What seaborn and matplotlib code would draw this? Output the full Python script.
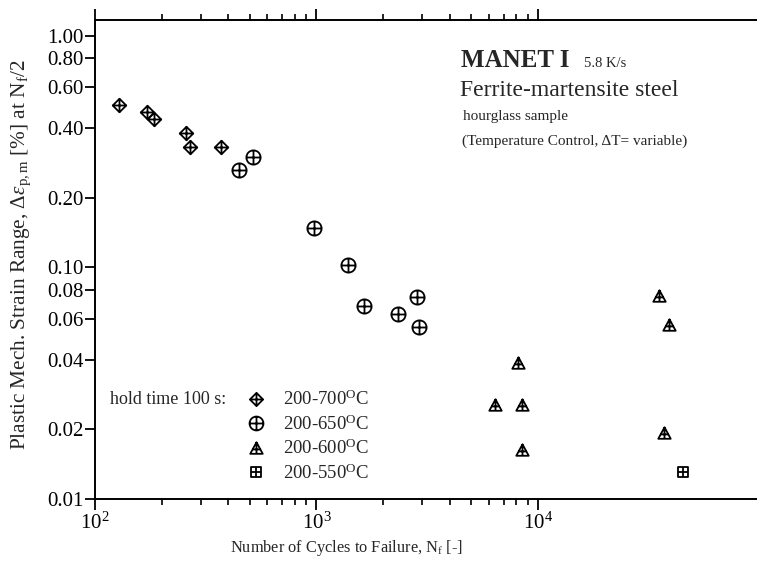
import numpy as np
import pandas as pd
import matplotlib
matplotlib.use("Agg")
import matplotlib.pyplot as plt
from matplotlib.path import Path
from matplotlib.lines import Line2D
from matplotlib.ticker import FixedLocator, FixedFormatter, NullFormatter
import seaborn as sns

# ---------------- data ----------------
series_names = ["200-700°C", "200-650°C", "200-600°C", "200-550°C"]
legend_labels = [r"200-700$^\mathrm{O}$C", r"200-650$^\mathrm{O}$C",
                 r"200-600$^\mathrm{O}$C", r"200-550$^\mathrm{O}$C"]

n_700 = [128, 172, 185, 258, 268, 371]
e_700 = [0.503, 0.470, 0.438, 0.381, 0.331, 0.331]

n_650 = [447, 517, 975, 1383, 1633, 2326, 2844, 2893]
e_650 = [0.264, 0.300, 0.148, 0.1025, 0.0684, 0.0628, 0.0743, 0.0555]

n_600 = [8128, 6397, 8472, 8472, 35200, 39000, 37100]
e_600 = [0.0386, 0.0255, 0.0255, 0.0163, 0.0753, 0.0565, 0.0193]

n_550 = [45200]
e_550 = [0.0131]

y_ticks = [0.01, 0.02, 0.04, 0.06, 0.08, 0.10, 0.20, 0.40, 0.60, 0.80, 1.00]
y_ticklabels = ["0.01", "0.02", "0.04", "0.06", "0.08", "0.10",
                "0.20", "0.40", "0.60", "0.80", "1.00"]
x_major = [1e2, 1e3, 1e4]
x_ticklabels = [r"$10^{2}$", r"$10^{3}$", r"$10^{4}$"]

df = pd.concat([
    pd.DataFrame({"N": n_700, "eps": e_700, "series": series_names[0]}),
    pd.DataFrame({"N": n_650, "eps": e_650, "series": series_names[1]}),
    pd.DataFrame({"N": n_600, "eps": e_600, "series": series_names[2]}),
    pd.DataFrame({"N": n_550, "eps": e_550, "series": series_names[3]}),
], ignore_index=True)

# ---------------- custom crossed markers ----------------
M, L, C = Path.MOVETO, Path.LINETO, Path.CLOSEPOLY

def shape_with_cross(outline, cross):
    verts, codes = [], []
    verts += list(outline) + [outline[0]]
    codes += [M] + [L] * (len(outline) - 1) + [C]
    for (a, b) in cross:
        verts += [a, b]
        codes += [M, L]
    return Path(verts, codes)

diamond = shape_with_cross([(0, 1), (1, 0), (0, -1), (-1, 0)],
                           [((0, 1), (0, -1)), ((-1, 0), (1, 0))])
circ = Path.unit_circle()
circle = Path(np.concatenate([circ.vertices, [[-1, 0], [1, 0], [0, -1], [0, 1]]]),
              np.concatenate([circ.codes, [M, L, M, L]]))
triangle = shape_with_cross([(-1, -0.85), (1, -0.85), (0, 1.0)],
                            [((0, 1.0), (0, -0.85)), ((-0.62, -0.15), (0.62, -0.15))])
square = shape_with_cross([(-1, -1), (1, -1), (1, 1), (-1, 1)],
                          [((0, 1), (0, -1)), ((-1, 0), (1, 0))])
marker_map = dict(zip(series_names, [diamond, circle, triangle, square]))
size_map = dict(zip(series_names, [95, 105, 80, 60]))

# ---------------- figure ----------------
sns.set_theme(style="ticks")
plt.rcParams["font.family"] = ["Liberation Serif", "DejaVu Serif"]
plt.rcParams["mathtext.fontset"] = "custom"
plt.rcParams["mathtext.rm"] = "Liberation Serif"
plt.rcParams["mathtext.it"] = "Liberation Serif:italic"
plt.rcParams["mathtext.bf"] = "Liberation Serif:bold"

fig = plt.figure(figsize=(7.57, 5.65), dpi=100)
ax = fig.add_axes([95 / 757, 1 - 499 / 565, (757 - 95) / 757, (499 - 20) / 565])

for name in series_names:
    sub = df[df["series"] == name]
    sns.scatterplot(data=sub, x="N", y="eps", marker=marker_map[name],
                    s=size_map[name], color="white", edgecolor="black",
                    linewidth=1.3, ax=ax, legend=False, zorder=3)

ax.set_xscale("log")
ax.set_yscale("log")
ax.set_xlim(100, 10 ** 4.989)
ax.set_ylim(0.01, 10 ** 0.0691)

ax.yaxis.set_major_locator(FixedLocator(y_ticks))
ax.yaxis.set_major_formatter(FixedFormatter(y_ticklabels))
ax.yaxis.set_minor_locator(FixedLocator([]))
ax.xaxis.set_major_locator(FixedLocator(x_major))
ax.xaxis.set_major_formatter(FixedFormatter(x_ticklabels))
minors = [m * d for d in (1e2, 1e3) for m in range(2, 10)]
ax.xaxis.set_minor_locator(FixedLocator(minors))
ax.xaxis.set_minor_formatter(NullFormatter())

for s in ["left", "bottom", "top"]:
    ax.spines[s].set_linewidth(1.4)
    ax.spines[s].set_color("black")
ax.spines["right"].set_visible(False)

ax.tick_params(axis="x", which="major", direction="out", length=8, width=1.3,
               top=True, labeltop=False, labelsize=15, pad=2, colors="black")
ax.tick_params(axis="x", which="minor", direction="out", length=4.5, width=1.2,
               top=True, colors="black")
ax.tick_params(axis="y", which="major", direction="out", length=7, width=1.3,
               labelsize=15, pad=1, colors="black")
ax.tick_params(axis="y", which="minor", length=0)
ax.grid(False)

ax.set_xlabel(r"Number of Cycles to Failure, N$_\mathrm{f}$ [-]", fontsize=11.8)
ax.xaxis.set_label_coords((346 - 95) / 662, -0.082)
ax.set_ylabel(r"Plastic Mech. Strain Range, $\Delta\varepsilon_\mathrm{p,m}$ [%] at N$_\mathrm{f}$/2",
              fontsize=15.3)
ax.yaxis.set_label_coords((33 - 95) / 662, 0.51)

# annotation texts
fig.text(461 / 757, 1 - 67 / 565, "MANET I", fontsize=18, fontweight="bold")
fig.text(584 / 757, 1 - 67 / 565, "5.8 K/s", fontsize=10.5)
fig.text(460 / 757, 1 - 96 / 565, "Ferrite-martensite steel", fontsize=17)
fig.text(463 / 757, 1 - 120 / 565, "hourglass sample", fontsize=11)
fig.text(462 / 757, 1 - 145 / 565, "(Temperature Control, ΔT= variable)", fontsize=11)
fig.text(110 / 757, 1 - 404 / 565, "hold time 100 s:", fontsize=13)

handles = [Line2D([], [], linestyle="none", marker=marker_map[n], markersize=ms,
                  markerfacecolor="white", markeredgecolor="black", markeredgewidth=1.3)
           for n, ms in zip(series_names, [9.5, 10, 9, 7.5])]
leg = ax.legend(handles, legend_labels, loc="upper left",
                bbox_to_anchor=(247 / 757, 1 - 390 / 565), bbox_transform=fig.transFigure,
                frameon=False, fontsize=13.5, handlelength=1.0, handletextpad=0.9,
                borderpad=0, borderaxespad=0, labelspacing=0.27)

fig.savefig("out.png", dpi=100)
